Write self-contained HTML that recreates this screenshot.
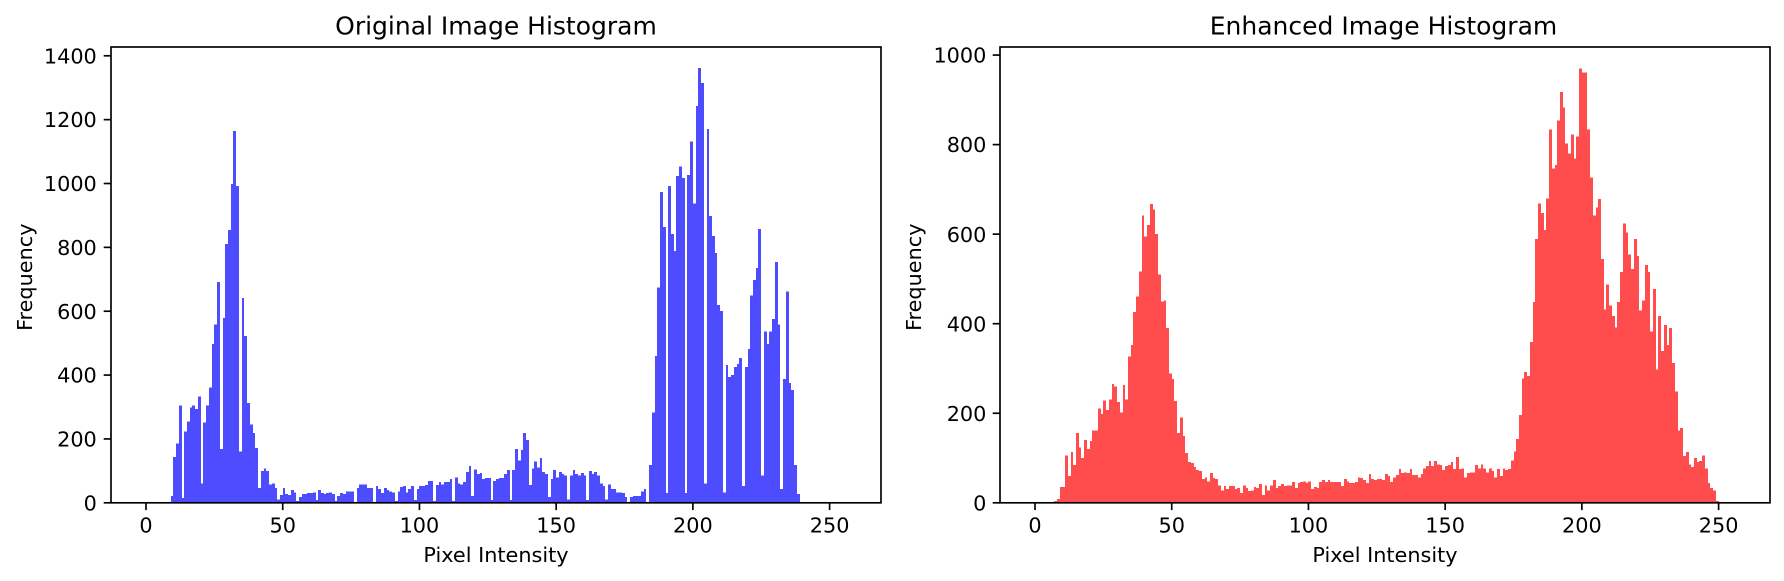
<!DOCTYPE html>
<html lang="en">
<head>
<meta charset="utf-8">
<title>Original and Enhanced Image Histograms</title>
<style>
  html, body { margin: 0; padding: 0; background: #fff; width: 1784px; height: 581px; overflow: hidden; }
  svg { display: block; }
  text { font-family: "DejaVu Sans", "Liberation Sans", sans-serif; fill: #000; }
</style>
</head>
<body>
<svg id="chart" xmlns="http://www.w3.org/2000/svg" width="1784" height="581" viewBox="0 0 1784 581"></svg>
<script>
// Frequency per pixel-intensity bin (10 values per row, bins 0-255)
const originalCounts = [
  0,0,0,0,0,0,0,0,3,22,
  143,186,305,15,224,255,299,305,293,333,
  60,252,305,361,497,559,691,168,578,810,
  854,998,1164,992,161,641,522,312,246,218,
  171,46,99,108,99,58,61,46,11,24,
  46,27,24,40,33,5,18,27,27,30,
  30,33,8,40,30,27,30,33,27,5,
  21,30,27,36,36,36,2,46,58,58,
  58,46,46,2,52,43,30,46,40,36,
  33,5,36,49,52,33,43,52,8,43,
  52,52,55,68,68,5,55,65,58,65,
  65,74,5,80,61,58,65,96,115,21,
  105,90,93,74,77,77,8,68,74,77,
  77,90,102,8,102,168,133,165,218,196,
  55,108,130,111,140,96,90,18,74,102,
  80,96,90,86,11,86,102,90,86,93,
  86,8,99,90,96,86,61,52,11,58,
  43,43,33,33,30,18,0,18,21,21,
  21,36,43,2,118,283,459,675,973,863,
  30,992,842,788,1023,1054,1017,30,1026,1132,
  938,1243,1361,1314,60,1170,898,835,782,619,
  600,33,431,394,400,425,434,453,52,425,
  481,650,697,735,857,86,537,497,537,575,
  754,559,43,387,662,375,353,118,27,0,
  0,0,0,0,0,0,0,0,0,0,
  0,0,0,0,0,0
];
const enhancedCounts = [
  0,0,0,0,0,0,1,4,8,35,
  35,106,60,113,84,156,124,100,140,120,
  138,162,162,211,198,229,207,231,265,260,
  225,202,263,231,327,352,426,461,517,642,
  595,620,667,655,600,510,450,452,390,289,
  276,227,156,191,149,111,91,89,80,73,
  71,53,57,48,66,55,53,39,28,37,
  31,37,37,31,33,22,39,33,26,28,
  35,33,42,17,39,28,39,51,33,37,
  42,37,39,39,46,33,44,46,48,44,
  48,31,35,33,46,51,46,51,46,46,
  46,46,37,53,48,44,44,46,57,55,
  51,44,64,53,51,53,53,51,64,60,
  46,57,62,75,66,68,66,75,62,62,
  57,64,77,82,93,82,93,86,84,73,
  82,84,91,75,102,75,77,57,66,68,
  68,84,77,86,77,68,77,71,57,75,
  60,77,73,75,95,115,142,196,278,292,
  283,359,448,589,669,647,609,680,834,747,
  754,854,917,883,803,780,823,769,818,970,
  961,961,834,727,642,660,678,544,432,488,
  441,417,392,448,515,624,604,555,522,589,
  551,430,452,531,515,383,477,298,417,339,
  397,352,390,312,249,162,167,104,113,86,
  80,100,91,93,106,77,44,33,28,4,
  0,0,0,0,0,0
];
const xTickValues = [0, 50, 100, 150, 200, 250];
const originalYTicks = [0, 200, 400, 600, 800, 1000, 1200, 1400];
const enhancedYTicks = [0, 200, 400, 600, 800, 1000];

const SVG_NS = 'http://www.w3.org/2000/svg';
const root = document.getElementById('chart');
const AXIS_TOP = 47;
const AXIS_BOTTOM = 502.8;
const X_MIN = -12.8;
const X_MAX = 268.8;

function make(tag, attrs, parent) {
  const el = document.createElementNS(SVG_NS, tag);
  for (const key in attrs) el.setAttribute(key, attrs[key]);
  parent.appendChild(el);
  return el;
}

function drawPanel(cfg) {
  const left = cfg.left;
  const right = cfg.right;
  const xScale = function (v) { return left + (v - X_MIN) / (X_MAX - X_MIN) * (right - left); };
  const yScale = function (v) { return AXIS_BOTTOM - v / cfg.yMax * (AXIS_BOTTOM - AXIS_TOP); };

  const panel = make('g', {}, root);
  
  

  const bars = make('g', { 'shape-rendering': 'crispEdges', fill: cfg.color }, panel);
  
  
  cfg.counts.forEach(function (count, bin) {
    if (count <= 0) return;
    const x0 = Math.round(xScale(bin));
    const x1 = Math.round(xScale(bin + 1));
    const top = yScale(count);
    const bar = make('rect', { x: x0, y: top, width: x1 - x0, height: AXIS_BOTTOM - top }, bars);
    
    
  });

  const xAxis = make('g', {}, panel);
  
  
  xTickValues.forEach(function (v) {
    const x = xScale(v);
    const mark = make('line', { x1: x, x2: x, y1: AXIS_BOTTOM, y2: AXIS_BOTTOM + 7.3, stroke: '#000', 'stroke-width': 1.67 }, xAxis);
    
    
    const label = make('text', { x: x, y: AXIS_BOTTOM + 29.6, 'font-size': 20.8, 'text-anchor': 'middle' }, xAxis);
    
    
    label.textContent = String(v);
  });

  const yAxis = make('g', {}, panel);
  
  
  cfg.yTicks.forEach(function (v) {
    const y = yScale(v);
    const mark = make('line', { x1: left - 7.3, x2: left, y1: y, y2: y, stroke: '#000', 'stroke-width': 1.67 }, yAxis);
    
    
    const label = make('text', { x: left - cfg.labelGap, y: y + 7.6, 'font-size': 20.8, 'text-anchor': 'end' }, yAxis);
    
    
    label.textContent = String(v);
  });

  const frame = make('rect', { x: left, y: AXIS_TOP, width: right - left, height: AXIS_BOTTOM - AXIS_TOP, fill: 'none', stroke: '#000', 'stroke-width': 1.67 }, panel);
  
  

  const mid = (left + right) / 2;
  const title = make('text', { x: mid + cfg.titleShift, y: 34.5, 'font-size': 25, 'text-anchor': 'middle' }, panel);
  
  
  title.textContent = cfg.title;

  const xTitle = make('text', { x: mid, y: 562, 'font-size': 20.8, 'text-anchor': 'middle' }, panel);
  
  
  xTitle.textContent = 'Pixel Intensity';

  const yMid = (AXIS_TOP + AXIS_BOTTOM) / 2 + 2.3;
  const yTitle = make('text', { x: cfg.yTitleX, y: yMid, 'font-size': 20.8, 'text-anchor': 'middle', transform: 'rotate(-90 ' + cfg.yTitleX + ' ' + yMid + ')' }, panel);
  
  
  yTitle.textContent = 'Frequency';
}

drawPanel({
  key: 'original', title: 'Original Image Histogram', counts: originalCounts, yTicks: originalYTicks,
  yMax: 1427.5, color: '#4d4dff', left: 111, right: 881, yTitleX: 32, labelGap: 14.2, titleShift: 0
});
drawPanel({
  key: 'enhanced', title: 'Enhanced Image Histogram', counts: enhancedCounts, yTicks: enhancedYTicks,
  yMax: 1018, color: '#ff4d4d', left: 1000, right: 1770, yTitleX: 921, labelGap: 13.6, titleShift: -1.5
});
</script>
</body>
</html>
